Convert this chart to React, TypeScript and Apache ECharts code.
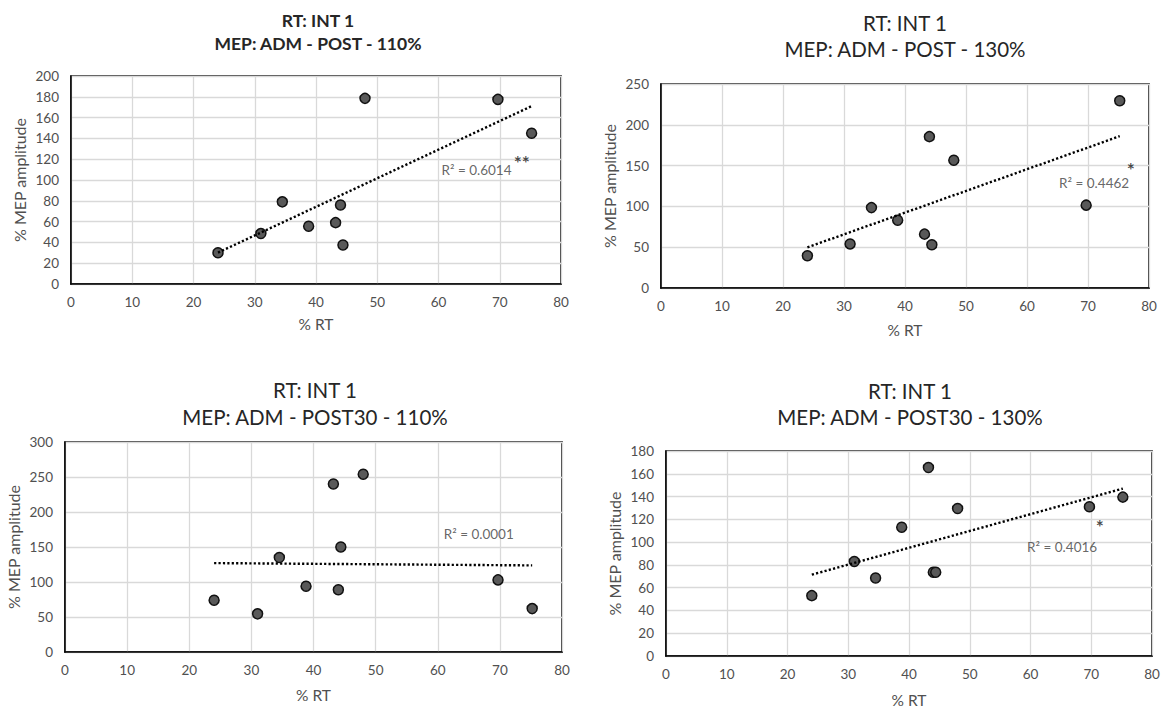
import React, { useEffect, useRef } from "react";
import * as echarts from "echarts";

const FONT = "Lato, 'Open Sans', sans-serif";

// % RT (x) shared by all four panels
const rtPercent = [24.0, 31.0, 34.5, 38.8, 43.2, 44.0, 44.4, 48.0, 69.7, 75.2];

// % MEP amplitude per panel
const mepPost110 = [30, 48.5, 79, 55.5, 59, 76, 37.5, 178.5, 177.5, 145];
const mepPost130 = [39.5, 54, 98.5, 83, 66, 185.5, 53, 156.5, 101.5, 229.5];
const mepPost30_110 = [74, 54.5, 135, 94, 240, 89, 150, 254, 103, 62];
const mepPost30_130 = [53, 83, 68.5, 113, 165.5, 73.5, 73.5, 129.5, 131, 139.5];

// linear trendline end points (x from trendX)
const trendX = [24.0, 75.2];
const trendPost110 = [30.2, 171];
const trendPost130 = [49.8, 186];
const trendPost30_110 = [127, 123.7];
const trendPost30_130 = [71.4, 147];

const titlesLine1 = ["RT: INT 1", "RT: INT 1", "RT: INT 1", "RT: INT 1"];
const titlesLine2 = [
  "MEP: ADM - POST - 110%",
  "MEP: ADM - POST - 130%",
  "MEP: ADM - POST30 - 110%",
  "MEP: ADM - POST30 - 130%",
];
const r2Labels = ["R² = 0.6014", "R² = 0.4462", "R² = 0.0001", "R² = 0.4016"];
const stars = ["**", "*", "", "*"];
const yMaxes = [200, 250, 300, 180];
const yIntervals = [20, 50, 50, 20];

const panels = [
  {
    y: mepPost110, trend: trendPost110, bold: true, titleSize: 17.5,
    grid: { left: 71, top: 76, width: 490, height: 208 },
    titleX: 318, titleY: [20, 43],
    r2Pos: [66.2, 109.6], starPos: [73.6, 116.5],
    xNameGap: 32, yNameGap: 44,
  },
  {
    y: mepPost130, trend: trendPost130, bold: false, titleSize: 20.5,
    grid: { left: 661, top: 84, width: 488, height: 204 },
    titleX: 905, titleY: [23, 49],
    r2Pos: [71.0, 128.5], starPos: [77.0, 145.5],
    xNameGap: 34, yNameGap: 44,
  },
  {
    y: mepPost30_110, trend: trendPost30_110, bold: false, titleSize: 20.5,
    grid: { left: 65, top: 442, width: 497, height: 210 },
    titleX: 315, titleY: [390, 417],
    r2Pos: [66.6, 168.6], starPos: null,
    xNameGap: 35, yNameGap: 44,
  },
  {
    y: mepPost30_130, trend: trendPost30_130, bold: false, titleSize: 20.5,
    grid: { left: 666, top: 451, width: 486, height: 205 },
    titleX: 910, titleY: [391, 417],
    r2Pos: [65.2, 95.4], starPos: [71.4, 113.8],
    xNameGap: 36, yNameGap: 44,
  },
];

export default function App() {
  const ref = useRef<HTMLDivElement>(null);

  useEffect(() => {
    if (!ref.current) return;
    const chart = echarts.init(ref.current, null, { renderer: "svg" });

    const grid: any[] = [];
    const xAxis: any[] = [];
    const yAxis: any[] = [];
    const series: any[] = [];
    const graphic: any[] = [];

    panels.forEach((p, i) => {
      grid.push({
        ...p.grid,
        show: true,
        borderColor: "#000",
        borderWidth: 1.5,
        backgroundColor: "transparent",
        containLabel: false,
      });
      xAxis.push({
        type: "value",
        gridIndex: i,
        min: 0,
        max: 80,
        interval: 10,
        name: "% RT",
        nameLocation: "middle",
        nameGap: p.xNameGap,
        nameTextStyle: { color: "#505050", fontSize: 15.5, fontFamily: FONT },
        axisLine: { show: true, lineStyle: { color: "#000", width: 1.5 } },
        axisTick: { show: false },
        axisLabel: { color: "#505050", fontSize: 13.5, fontFamily: FONT, margin: 11 },
        splitLine: { show: true, lineStyle: { color: "#d9d9d9", width: 1.3 } },
      });
      yAxis.push({
        type: "value",
        gridIndex: i,
        min: 0,
        max: yMaxes[i],
        interval: yIntervals[i],
        name: "% MEP amplitude",
        nameLocation: "middle",
        nameGap: p.yNameGap,
        nameRotate: 90,
        nameTextStyle: { color: "#505050", fontSize: 16, fontFamily: FONT },
        axisLine: { show: true, lineStyle: { color: "#000", width: 1.5 } },
        axisTick: { show: false },
        axisLabel: { color: "#505050", fontSize: 13.5, fontFamily: FONT, margin: 12 },
        splitLine: { show: true, lineStyle: { color: "#d9d9d9", width: 1.3 } },
      });

      series.push({
        type: "scatter",
        xAxisIndex: i,
        yAxisIndex: i,
        z: 2,
        symbol: "circle",
        symbolSize: 10,
        itemStyle: { color: "#595959", borderColor: "#111", borderWidth: 1.5, opacity: 1 },
        data: rtPercent.map((x, k) => [x, p.y[k]]),
      });
      series.push({
        type: "line",
        xAxisIndex: i,
        yAxisIndex: i,
        z: 3,
        symbol: "none",
        lineStyle: { color: "#000", width: 2.4, type: [2.2, 2.2] },
        data: trendX.map((x, k) => [x, p.trend[k]]),
      });
      series.push({
        type: "scatter",
        xAxisIndex: i,
        yAxisIndex: i,
        z: 4,
        symbolSize: 1,
        itemStyle: { color: "rgba(0,0,0,0)" },
        label: {
          show: true,
          position: "inside",
          formatter: r2Labels[i],
          color: "#404040",
          textBorderWidth: 0,
          textBorderColor: "transparent",
          fontSize: 13.5,
          fontFamily: FONT,
        },
        data: [p.r2Pos],
      });
      if (p.starPos && stars[i]) {
        series.push({
          type: "scatter",
          xAxisIndex: i,
          yAxisIndex: i,
          z: 4,
          symbolSize: 1,
          itemStyle: { color: "rgba(0,0,0,0)" },
          label: {
            show: true,
            position: "inside",
            formatter: stars[i],
            color: "#1a1a1a",
            textBorderWidth: 0,
            textBorderColor: "transparent",
            fontSize: 19,
            fontWeight: "bold",
            fontFamily: FONT,
          },
          data: [p.starPos],
        });
      }

      [titlesLine1[i], titlesLine2[i]].forEach((t, k) => {
        graphic.push({
          type: "text",
          x: p.titleX,
          y: p.titleY[k],
          style: {
            text: t,
            fill: "#262626",
            fontSize: p.titleSize,
            fontWeight: p.bold ? "bold" : "normal",
            fontFamily: FONT,
            align: "center",
            verticalAlign: "middle",
          },
        });
      });
    });

    chart.setOption({
      animation: false,
      backgroundColor: "#fff",
      grid,
      xAxis,
      yAxis,
      series,
      graphic,
    });

    return () => chart.dispose();
  }, []);

  return (
    <div
      ref={ref}
      style={{ position: "absolute", left: 0, top: 0, width: 1164, height: 709 }}
    />
  );
}
